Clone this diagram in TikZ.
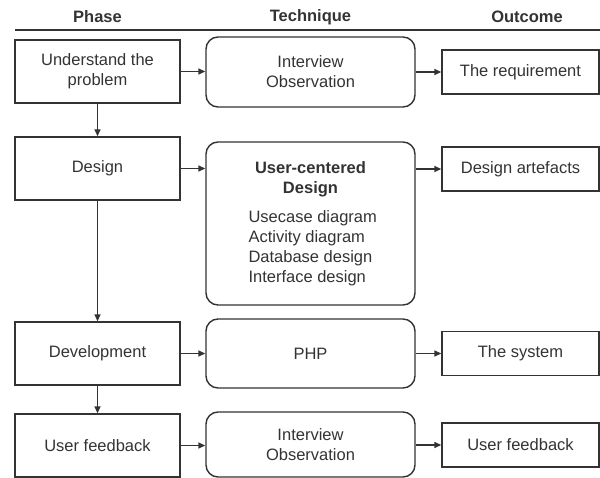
\documentclass[tikz,border=0pt]{standalone}
\usepackage{fontspec}
\setmainfont{Liberation Sans}
\usetikzlibrary{arrows.meta}
\definecolor{ink}{HTML}{333333}
\begin{document}
\begin{tikzpicture}[x=1bp,y=-1bp,
  every node/.style={font=\fontsize{16.5bp}{20bp}\selectfont, text=ink},
  phasebox/.style={draw=ink, line width=1.4bp, rectangle, minimum width=165bp, minimum height=63bp, align=center, inner sep=0pt},
  techbox/.style={draw=ink, line width=1.4bp, rectangle, rounded corners=12bp, minimum width=209bp, align=center, inner sep=0pt},
  outbox/.style={draw=ink, line width=1.4bp, rectangle, minimum width=157bp, minimum height=44bp, align=center, inner sep=0pt},
  head/.style={font=\fontsize{16.5bp}{20bp}\selectfont\bfseries},
  conn/.style={draw=ink, line width=1.4bp, -{Triangle[length=7bp,width=6bp]}}
]
\useasboundingbox (0,0) rectangle (600,478);

% headers
\node[head] (h1) at (97.5,17) {Phase};
\node[head] (h2) at (310.5,17) {Technique};
\node[head] (h3) at (527,17) {Outcome};
\coordinate (hl) at (15,30);
\coordinate (hr) at (600,30);
\draw[ink, line width=1.4bp] (hl) -- (hr);

% phase
\node[phasebox] (p1) at (97.5,71.5) {Understand the\\problem};
\node[phasebox] (p2) at (97.5,168.5) {Design};
\node[phasebox] (p3) at (97.5,353.5) {Development};
\node[phasebox] (p4) at (97.5,445.5) {User feedback};

% technique
\node[techbox, minimum height=70bp] (t1) at (310.5,72) {Interview\\Observation};
\node[techbox, minimum height=163bp] (t2) at (310.5,223.5) {};
\node[head, align=center] (t2a) at (310.5,179) {User-centered\\Design};
\node[align=left, anchor=north west] (t2b) at (245,207) {Usecase diagram\\Activity diagram\\Database design\\Interface design};
\node[techbox, minimum height=69bp] (t3) at (310.5,353.5) {PHP};
\node[techbox, minimum height=65bp] (t4) at (310.5,444.5) {Interview\\Observation};

% outcome
\node[outbox] (o1) at (520.5,72) {The requirement};
\node[outbox] (o2) at (520.5,169) {Design artefacts};
\node[outbox] (o3) at (520.5,353.5) {The system};
\node[outbox] (o4) at (520.5,445) {User feedback};

% connectors
\draw[conn] (p1.east) -- (p1.east -| t1.west);
\draw[conn] (p2.east) -- (p2.east -| t2.west);
\draw[conn] (p3.east) -- (p3.east -| t3.west);
\draw[conn] (p4.east) -- (p4.east -| t4.west);

\draw[conn] (o1.west -| t1.east) -- (o1.west);
\draw[conn] (o2.west -| t2.east) -- (o2.west);
\draw[conn] (o3.west -| t3.east) -- (o3.west);
\draw[conn] (o4.west -| t4.east) -- (o4.west);

\draw[conn] (p1.south) -- (p2.north);
\draw[conn] (p2.south) -- (p3.north);
\draw[conn] (p3.south) -- (p4.north);
\end{tikzpicture}
\end{document}
